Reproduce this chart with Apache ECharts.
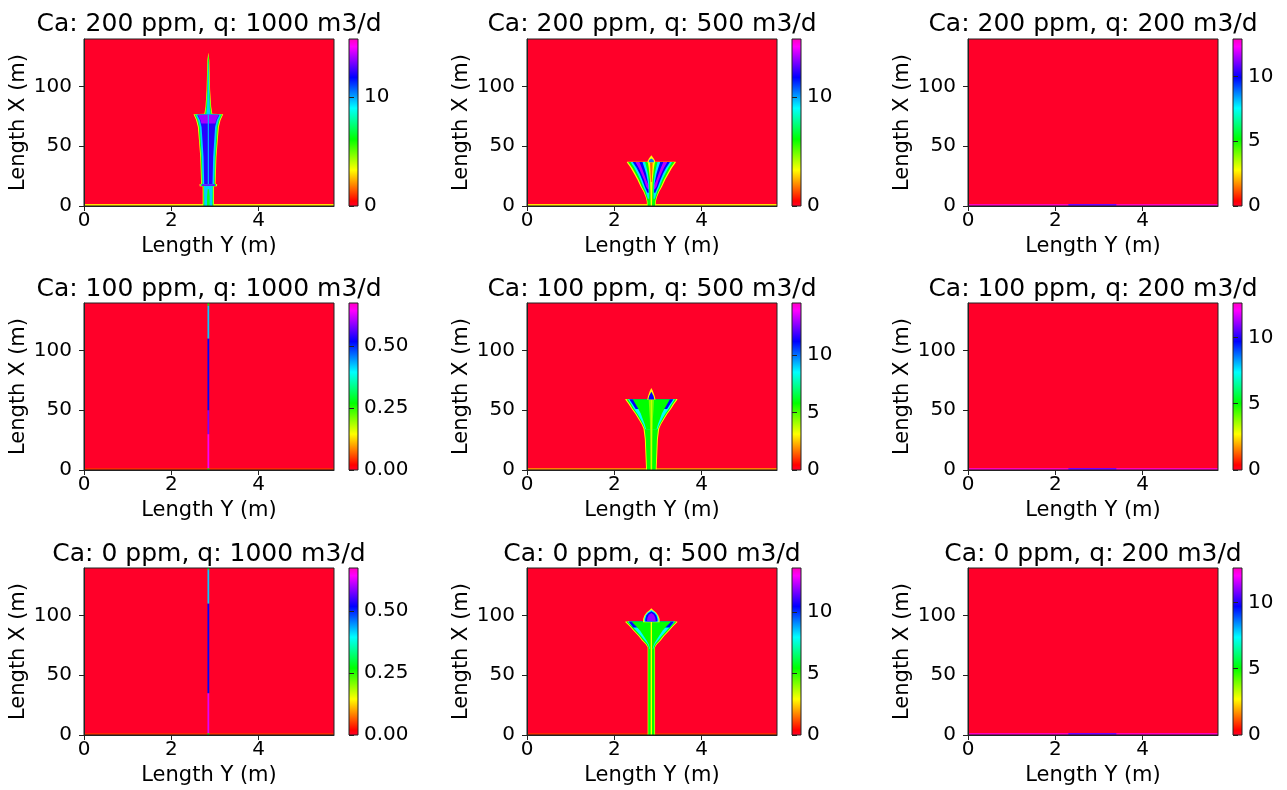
<!DOCTYPE html>
<html><head><meta charset="utf-8">
<script src="https://cdn.jsdelivr.net/npm/echarts@6/dist/echarts.min.js"></script>
<style>html,body{margin:0;padding:0;background:#fff}#c{width:1287px;height:790px}</style>
</head><body><div id="c"></div>
<script>
// ---------------- data ----------------
const titles = [
  'Ca: 200 ppm, q: 1000 m3/d', 'Ca: 200 ppm, q: 500 m3/d', 'Ca: 200 ppm, q: 200 m3/d',
  'Ca: 100 ppm, q: 1000 m3/d', 'Ca: 100 ppm, q: 500 m3/d', 'Ca: 100 ppm, q: 200 m3/d',
  'Ca: 0 ppm, q: 1000 m3/d',   'Ca: 0 ppm, q: 500 m3/d',   'Ca: 0 ppm, q: 200 m3/d'
];
const lenY = 5.73;      // horizontal extent (m)
const lenX = 139.7;     // vertical extent (m)
const wellY = 2.85;     // plume centre line (m)
const xTickVals = [0, 2, 4];
const yTickVals = [0, 50, 100];
const cbMax = [15.3, 15.3, 12.9, 0.675, 14.5, 12.6, 0.675, 13.6, 12.6];
const cbTicks = [[0,10],[0,10],[0,5,10],[0,0.25,0.5],[0,5,10],[0,5,10],[0,0.25,0.5],[0,5,10],[0,5,10]];
const cbDecimals = [0,0,0,2,0,0,2,0,0];

// rectangular cells: [yFrom, yTo, xFrom, xTo, value]
const cells0 = [[0,5.73,0,139.7,0],[0,5.73,0,1.6,3.0]];
const cells1 = [[0,5.73,0,139.7,0],[0,5.73,0,1.6,3.0]];
const cells2 = [[0,5.73,0,139.7,0],[0,5.73,0,1.6,12.9],[2.3,3.4,0,1.6,11.0]];
const cells3 = [[0,5.73,0,139.7,0],[0,5.73,0,1.6,0.04],
  [2.83,2.87,0,1.5,0.27],[2.83,2.87,1.5,30,0.64],[2.83,2.87,30,50,0.58],
  [2.83,2.87,50,110,0.52],[2.83,2.87,110,137.5,0.42],[2.83,2.87,137.5,139.7,0.27]];
const cells4 = [[0,5.73,0,139.7,0],[0,5.73,0,1.6,1.8]];
const cells5 = [[0,5.73,0,139.7,0],[0,5.73,0,1.6,12.6],[2.3,3.4,0,1.6,10.8]];
const cells6 = [[0,5.73,0,139.7,0],[0,5.73,0,1.6,0.04],
  [2.83,2.87,0,1.5,0.27],[2.83,2.87,1.5,35,0.63],[2.83,2.87,35,110,0.52],
  [2.83,2.87,110,138,0.42],[2.83,2.87,138,139.7,0.3]];
const cells7 = [[0,5.73,0,139.7,0],[0,5.73,0,1.6,0.8]];
const cells8 = [[0,5.73,0,139.7,0],[0,5.73,0,1.6,12.6],[2.3,3.4,0,1.6,10.8]];

// plume bands (drawn outer to inner): [value, [[X, halfWidth], ...]]
const bands0 = [
  [3.3, [[0,0.13],[16.5,0.13],[16.5,0.2],[18.5,0.2],[18.5,0.165],[41,0.185],[55,0.215],[66,0.24],[72,0.28],[76.8,0.34],[77.2,0.09],[83,0.065],[97,0.04],[122,0.022],[128.5,0]]],
  [6.5, [[0,0.115],[16.5,0.115],[16.5,0.18],[18.3,0.18],[18.3,0.15],[41,0.17],[55,0.2],[66,0.22],[72,0.26],[76.5,0.32],[77,0.075],[83,0.052],[97,0.03],[122,0.014],[127,0]]],
  [9.5, [[0,0.09],[17,0.1],[17,0.16],[18,0.16],[18,0.13],[41,0.15],[55,0.175],[66,0.195],[72,0.235],[76.3,0.29],[76.8,0.045],[83,0.03],[97,0.016],[118,0.006],[122,0]]],
  [12.2, [[18.5,0.095],[41,0.11],[55,0.135],[66,0.155],[72,0.195],[76,0.25],[76.3,0.25]]],
  [13.6, [[69,0.16],[72,0.18],[76,0.235],[76.3,0.235]]],
  [9.8, [[18.5,0.014],[76.3,0.014]]],
  [13.0, [[16.8,0.15],[18.2,0.15]]],
  [6.5, [[0,0.03],[8,0.03],[14,0.015]]]
];
const bands1 = [
  [3.3, [[0,0.1],[4,0.105],[7.6,0.13],[12,0.18],[16,0.245],[22,0.32],[27.2,0.4],[32,0.475],[36.4,0.56],[37,0.56]]],
  [6.2, [[0,0.085],[4,0.09],[7.6,0.115],[12,0.16],[16,0.22],[22,0.29],[27.2,0.367],[32,0.44],[36.4,0.527],[36.8,0.527]]],
  [9.2, [[6,0.08],[12,0.13],[16,0.185],[22,0.25],[27.2,0.32],[32,0.39],[36.4,0.47],[36.8,0.47]]],
  [11.8, [[11,0.09],[16,0.15],[22,0.21],[27.2,0.27],[32,0.34],[36.4,0.42],[36.8,0.42]]],
  [13.8, [[14,0.08],[16,0.12],[22,0.17],[27.2,0.23],[32,0.29],[36.4,0.36],[36.8,0.36]]],
  [11.8, [[18,0.07],[22,0.12],[27.2,0.17],[32,0.22],[36.4,0.27],[36.8,0.27]]],
  [9.2, [[10,0.06],[18,0.07],[22,0.09],[27.2,0.12],[32,0.16],[36.4,0.2],[36.8,0.2]]],
  [6.2, [[0,0.05],[18,0.05],[22,0.06],[27.2,0.08],[32,0.11],[36.4,0.14],[36.8,0.14]]],
  [3.3, [[0,0.015],[10,0.02],[22,0.03],[27.2,0.045],[32,0.06],[36.4,0.08],[36.8,0.08]]],
  [1.5, [[20,0.01],[27.2,0.02],[36.4,0.03],[36.8,0.03]]],
  [3.3, [[36.4,0.09],[38,0.08],[40,0.05],[42.5,0]]],
  [10.5, [[36.6,0.06],[38.5,0.05],[39.8,0]]]
];
const bands4 = [
  [3.1, [[0,0.12],[26,0.15],[34.5,0.18],[38,0.22],[42.9,0.3],[47,0.37],[51.3,0.455],[55,0.52],[58.8,0.595],[59.3,0.595]]],
  [5.8, [[0,0.1],[26,0.128],[34.5,0.155],[38,0.2],[42.9,0.275],[47,0.345],[51.3,0.428],[55,0.49],[58.8,0.565],[59.2,0.565]]],
  [8.5, [[34,0.14],[38,0.18],[42.9,0.25],[47,0.32],[51.3,0.4],[55,0.46],[58.8,0.53],[59.2,0.53]]],
  [11.2, [[51,0.36],[55,0.43],[58.8,0.5],[59.2,0.5]]],
  [5.8, [[34,0.12],[38,0.15],[42.9,0.2],[47,0.24],[51.3,0.3],[55,0.36],[58.8,0.42],[59.2,0.42]]],
  [4.5, [[0,0.02],[26,0.025],[42.9,0.035],[51.3,0.05],[58.8,0.06],[59.2,0.06]]],
  [3.5, [[0,0.01],[59.2,0.01]]],
  [3.1, [[58.8,0.095],[62,0.075],[66,0.035],[68.6,0]]],
  [11.2, [[59,0.07],[62,0.05],[65.5,0]]]
];
const bands7 = [
  [2.9, [[0,0.085],[73.4,0.085],[76,0.13],[79,0.215],[83,0.3],[87.4,0.415],[91,0.5],[94.4,0.595],[95,0.595]]],
  [5.4, [[0,0.07],[73.4,0.073],[76,0.11],[79,0.19],[83,0.275],[87.4,0.39],[91,0.475],[94.4,0.565],[94.9,0.565]]],
  [8.0, [[72,0.04],[76,0.08],[79,0.15],[83,0.24],[87.4,0.35],[91,0.44],[94.4,0.53],[94.9,0.53]]],
  [10.5, [[90,0.42],[91,0.44],[94.4,0.51],[94.9,0.51]]],
  [5.4, [[72,0.03],[76,0.06],[79,0.11],[83,0.18],[87.4,0.26],[91,0.35],[94.4,0.44],[94.9,0.44]]],
  [2.9, [[0,0.015],[94.9,0.015]]],
  [2.9, [[94.4,0.19],[97,0.19],[100,0.16],[102.5,0.11],[104.5,0.04],[106,0]]],
  [8.0, [[94.8,0.165],[97,0.165],[100,0.14],[102.5,0.09],[104,0.03],[104.5,0]]],
  [10.5, [[95,0.14],[97,0.14],[100,0.115],[102,0.07],[103.5,0]]],
  [12.0, [[95.2,0.1],[98,0.09],[100.5,0.06],[102,0]]]
];
const panelCells = [cells0, cells1, cells2, cells3, cells4, cells5, cells6, cells7, cells8];
const panelBands = [bands0, bands1, [], [], bands4, [], [], bands7, []];

// ---------------- colormap (gist_rainbow) ----------------
const cmapStops = [[0,[255,0,41]],[0.03,[255,0,0]],[0.215,[255,255,0]],[0.4,[0,255,0]],
  [0.586,[0,255,255]],[0.77,[0,0,255]],[0.954,[255,0,255]],[1,[255,0,191]]];
function cmap(t) {
  t = Math.max(0, Math.min(1, t));
  for (let i = 1; i < cmapStops.length; i++) {
    const a = cmapStops[i-1], b = cmapStops[i];
    if (t <= b[0]) {
      const f = (t - a[0]) / (b[0] - a[0]);
      const c = a[1].map((v, j) => Math.round(v + (b[1][j] - v) * f));
      return 'rgb(' + c.join(',') + ')';
    }
  }
  return 'rgb(255,0,191)';
}

// ---------------- layout ----------------
const plotLeft = [84, 527, 968], plotW = 250;
const cbLeft = [349, 792, 1233], cbW = 9;
const plotTop = [39, 303, 568], plotH = 167;
const titleY = [24, 289, 554];
const FONT = 'DejaVu Sans';

const grids = [], xAxes = [], yAxes = [], series = [], graphics = [];
for (let k = 0; k < 9; k++) {
  const r = Math.floor(k / 3), c = k % 3;
  grids.push({left: plotLeft[c], top: plotTop[r], width: plotW, height: plotH, show: true,
    borderColor: '#222', borderWidth: 1, backgroundColor: 'transparent', z: 10, outerBoundsMode: 'none', containLabel: false});
  grids.push({left: cbLeft[c], top: plotTop[r], width: cbW, height: plotH, show: true,
    borderColor: '#222', borderWidth: 1, backgroundColor: 'transparent', z: 10, outerBoundsMode: 'none', containLabel: false});
  const gi = 2 * k, gc = 2 * k + 1;
  xAxes.push({gridIndex: gi, type: 'value', min: 0, max: lenY, z: 10,
    axisLine: {show: true, lineStyle: {color: '#222'}},
    axisTick: {show: true, length: 5, lineStyle: {color: '#222'}, customValues: xTickVals},
    axisLabel: {customValues: xTickVals, fontSize: 20, color: '#000', margin: 5, fontFamily: FONT},
    splitLine: {show: false},
    name: 'Length Y (m)', nameLocation: 'middle', nameGap: 30, nameMoveOverlap: false,
    nameTextStyle: {fontSize: 21, color: '#000', fontFamily: FONT}});
  yAxes.push({gridIndex: gi, type: 'value', min: 0, max: lenX, z: 10,
    axisLine: {show: true, lineStyle: {color: '#222'}},
    axisTick: {show: true, length: 5, lineStyle: {color: '#222'}, customValues: yTickVals},
    axisLabel: {customValues: yTickVals, fontSize: 20, color: '#000', margin: 12, fontFamily: FONT},
    splitLine: {show: false},
    name: 'Length X (m)', nameLocation: 'middle', nameGap: 55, nameRotate: 90, nameMoveOverlap: false,
    nameTextStyle: {fontSize: 21, color: '#000', fontFamily: FONT}});
  xAxes.push({gridIndex: gc, type: 'value', min: 0, max: 1, show: false});
  const dec = cbDecimals[k];
  yAxes.push({gridIndex: gc, type: 'value', min: 0, max: cbMax[k], position: 'right', z: 10,
    axisLine: {show: false},
    axisTick: {show: true, length: 5, lineStyle: {color: '#222'}, customValues: cbTicks[k]},
    axisLabel: {customValues: cbTicks[k], fontSize: 20, color: '#000', margin: 6, fontFamily: FONT,
      formatter: v => Number(v).toFixed(dec)},
    splitLine: {show: false}});

  const shapes = panelCells[k].map(cl => ({rect: cl})).concat(panelBands[k].map(b => ({band: b})));
  series.push({type: 'custom', xAxisIndex: gi, yAxisIndex: gi, silent: true, clip: true,
    data: shapes.map((s, i) => [i, 0]),
    renderItem: (params, api) => {
      const s = shapes[params.dataIndex];
      if (s.rect) {
        const cl = s.rect;
        const p0 = api.coord([cl[0], cl[2]]), p1 = api.coord([cl[1], cl[3]]);
        return {type: 'rect', shape: {x: p0[0], y: p1[1], width: p1[0] - p0[0], height: p0[1] - p1[1]},
          style: {fill: cmap(cl[4] / cbMax[k])}};
      }
      const v = s.band[0], pts = s.band[1];
      const left = pts.map(p => api.coord([wellY - p[1], p[0]]));
      const right = pts.slice().reverse().map(p => api.coord([wellY + p[1], p[0]]));
      return {type: 'polygon', shape: {points: left.concat(right)}, style: {fill: cmap(v / cbMax[k])}};
    }});
  series.push({type: 'custom', xAxisIndex: gc, yAxisIndex: gc, silent: true,
    data: [[0, cbMax[k]]],
    renderItem: (params, api) => {
      const p0 = api.coord([0, 0]), p1 = api.coord([1, cbMax[k]]);
      const stops = cmapStops.map(s => ({offset: s[0], color: 'rgb(' + s[1].join(',') + ')'}));
      return {type: 'rect', shape: {x: p0[0], y: p1[1], width: p1[0] - p0[0], height: p0[1] - p1[1]},
        style: {fill: new echarts.graphic.LinearGradient(0, 1, 0, 0, stops)}};
    }});
  graphics.push({type: 'text', x: plotLeft[c] + plotW / 2, y: titleY[r], silent: true,
    style: {text: titles[k], fontSize: 25, fontFamily: FONT, fill: '#000', align: 'center', verticalAlign: 'middle'}});
}

const chart = echarts.init(document.getElementById('c'), null, {renderer: 'canvas'});
chart.setOption({
  animation: false, backgroundColor: '#fff',
  grid: grids, xAxis: xAxes, yAxis: yAxes, series: series, graphic: graphics
});
</script></body></html>
